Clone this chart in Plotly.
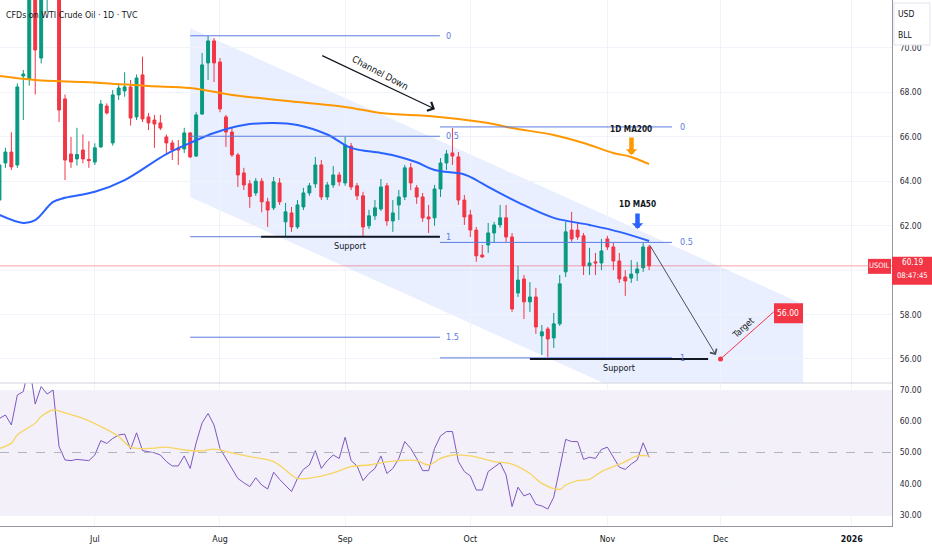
import plotly.graph_objects as go

# ---------------- data ----------------
# trading-bar index, 0 = first session of August 2025
bar_k = list(range(-37, 73))

open_p = [63.15, 64.82, 65.31, 64.73, 68.73, 68.60, 72.90, 69.54, 72.80, 74.20,
          73.60, 67.70, 65.22, 65.00, 65.40, 64.98, 64.86, 65.54, 67.38, 65.72,
          67.88, 68.06, 68.24, 66.89, 68.78, 66.89, 66.75, 66.62, 65.99, 65.72,
          65.49, 65.45, 66.17, 65.13, 67.02, 69.32, 70.31,
          69.36, 66.89, 66.21, 65.18, 64.37, 63.88, 63.47, 64.00, 63.07, 62.80,
          63.92, 62.17, 62.57, 61.94, 62.84, 63.47, 63.88, 64.73, 63.29, 63.83,
          64.28, 63.92, 65.58, 63.79, 63.34, 61.99, 62.44, 62.75, 63.79, 62.21,
          62.93, 63.29, 64.60, 63.70, 63.29, 62.39, 62.35, 63.65, 64.82, 65.27,
          65.09, 63.15, 62.48, 61.80, 60.68, 61.13, 61.67, 62.03, 62.35, 61.49,
          58.97, 59.60, 58.57, 58.79, 57.04, 57.35, 56.95, 57.58, 59.92, 61.80,
          61.80, 61.54, 60.19, 60.37, 60.32, 61.40, 61.04, 60.41, 59.69, 59.64,
          59.87, 60.10, 61.04]
high_p = [64.95, 65.50, 66.20, 68.40, 69.00, 73.60, 73.40, 73.20, 75.20, 75.50,
          74.00, 67.90, 65.99, 66.40, 66.10, 65.80, 65.70, 67.65, 67.50, 68.10,
          68.40, 68.90, 68.55, 68.80, 69.60, 67.07, 66.98, 66.98, 66.10, 65.85,
          65.85, 66.40, 66.20, 67.10, 69.77, 70.53, 70.44,
          69.54, 66.98, 66.40, 65.27, 64.60, 64.05, 64.14, 64.14, 63.25, 64.19,
          64.14, 63.02, 62.84, 63.15, 63.70, 63.92, 65.09, 64.95, 63.97, 64.68,
          64.41, 65.99, 65.72, 63.92, 63.52, 62.71, 63.15, 64.10, 63.92, 63.15,
          63.60, 64.73, 64.82, 63.83, 63.47, 62.93, 63.83, 65.04, 65.40, 66.39,
          65.31, 63.38, 62.71, 61.94, 61.13, 62.12, 62.17, 62.93, 62.93, 61.67,
          60.19, 59.78, 59.46, 59.20, 57.53, 57.44, 58.07, 59.78, 62.17, 62.62,
          62.12, 61.67, 61.00, 60.77, 61.40, 61.54, 61.22, 60.77, 60.00, 60.45,
          60.37, 61.22, 61.13]
low_p = [62.93, 64.60, 64.50, 64.60, 66.75, 68.30, 67.90, 69.30, 71.60, 72.60,
         66.66, 64.05, 64.60, 64.70, 64.80, 64.60, 64.73, 65.50, 67.00, 65.60,
         67.65, 67.80, 66.50, 66.75, 66.66, 66.30, 65.50, 66.30, 65.27, 64.95,
         64.73, 65.27, 65.04, 65.09, 66.98, 68.55, 68.46,
         67.10, 65.54, 65.09, 63.74, 63.60, 62.80, 63.34, 62.60, 61.94, 62.70,
         62.93, 61.49, 61.72, 61.85, 62.70, 63.34, 63.70, 63.15, 63.15, 63.70,
         63.79, 63.79, 63.60, 63.15, 61.54, 61.85, 62.25, 62.66, 61.99, 61.72,
         62.25, 63.15, 63.60, 62.98, 62.17, 61.67, 61.99, 63.29, 64.50, 64.73,
         62.93, 62.03, 61.49, 60.37, 60.55, 60.77, 61.22, 61.90, 61.27, 58.12,
         58.79, 57.80, 58.12, 57.13, 56.18, 56.09, 56.50, 57.49, 59.69, 61.27,
         61.36, 59.78, 59.78, 59.78, 60.00, 60.90, 60.00, 59.42, 58.84, 59.42,
         59.51, 59.92, 60.00]
close_p = [64.73, 65.31, 64.64, 68.24, 68.82, 72.90, 69.90, 72.80, 74.20, 73.60,
           67.20, 64.95, 64.86, 65.20, 65.00, 64.93, 65.50, 67.47, 67.07, 67.88,
           68.19, 68.24, 66.84, 68.64, 66.80, 66.62, 66.57, 66.39, 65.72, 65.40,
           65.40, 66.17, 65.09, 66.98, 69.23, 70.31, 69.32,
           67.25, 66.21, 65.18, 64.28, 63.83, 63.31, 64.00, 63.07, 62.70, 63.97,
           63.07, 62.62, 61.94, 62.93, 63.47, 63.79, 64.73, 63.29, 63.83, 64.28,
           63.97, 65.63, 63.74, 63.34, 61.94, 62.44, 62.80, 63.74, 62.21, 62.57,
           63.29, 64.60, 63.92, 63.29, 62.35, 62.30, 63.65, 64.82, 65.22, 65.13,
           63.15, 62.39, 61.80, 60.64, 60.59, 61.67, 62.03, 62.35, 61.49, 58.25,
           59.55, 58.57, 58.79, 57.44, 57.22, 56.90, 57.58, 59.38, 61.72, 61.40,
           61.49, 60.19, 60.32, 60.32, 60.86, 61.04, 60.41, 59.60, 59.51, 59.82,
           60.05, 61.04, 60.19]

# moving averages at sample bars
ma50_k = [-37, -33, -31, -28, -26, -21, -16, -9, -5, -1, 4, 9, 13, 18, 22, 27,
          30, 33, 36, 41, 43, 45, 50, 56, 62, 67, 72]
ma50_v = [62.48, 62.12, 62.25, 63.07, 63.25, 63.52, 64.05, 65.22, 65.72, 66.17,
          66.53, 66.62, 66.53, 66.10, 65.50, 65.27, 65.10, 64.85, 64.50, 64.30,
          64.05, 63.74, 63.05, 62.35, 62.03, 61.72, 61.31]
ma200_k = [-37, -31, -20, -12, -5, 2, 13, 21, 27, 35, 40, 45, 49, 56, 61, 66, 69, 72]
ma200_v = [68.73, 68.55, 68.42, 68.28, 68.19, 67.88, 67.56, 67.34, 67.07, 66.93,
           66.80, 66.62, 66.39, 66.08, 65.72, 65.27, 65.09, 64.77]

rsi_v = [60.9, 62.0, 58.8, 68.4, 69.5, 78.0, 65.5, 71.1, 68.7, 70.0,
         51.9, 47.6, 47.4, 47.8, 47.6, 47.4, 49.2, 53.8, 52.9, 54.5,
         55.6, 55.9, 51.1, 56.3, 50.6, 50.3, 49.9, 49.2, 47.1, 45.7,
         45.7, 48.9, 44.9, 53.1, 59.5, 62.5, 58.8,
         51.3, 48.1, 44.9, 41.7, 40.3, 39.1, 41.9, 39.6, 38.3, 43.7,
         41.4, 39.6, 37.5, 41.7, 44.6, 46.0, 50.6, 44.9, 47.4, 49.2,
         48.1, 54.9, 47.4, 45.7, 41.0, 43.3, 44.9, 48.9, 43.3, 44.9,
         48.1, 53.5, 51.3, 48.1, 44.2, 44.2, 51.3, 55.3, 56.7, 56.7,
         47.1, 43.9, 42.5, 38.0, 38.0, 43.9, 45.3, 46.7, 42.8, 32.7,
         38.9, 36.1, 36.9, 33.4, 32.9, 31.9, 35.7, 45.0, 54.2, 53.5,
         53.5, 47.8, 48.5, 48.1, 51.0, 51.7, 48.5, 45.3, 44.6, 46.3,
         47.6, 53.1, 48.5]
rsi_ma_k = [-37, -35, -34, -31, -30, -28, -26, -23, -20, -17, -15, -12, -9, -6, -3,
            -1, 2, 5, 9, 11, 13, 16, 19, 22, 25, 27, 30, 33, 35, 37, 39, 42, 43,
            46, 49, 52, 54, 57, 58, 60, 62, 64, 66, 68, 70, 72]
rsi_ma_v = [51.3, 53.0, 55.6, 59.4, 61.5, 63.6, 62.7, 60.9, 58.3, 55.1, 51.7, 51.3,
            51.7, 50.8, 50.5, 51.1, 49.9, 48.7, 47.1, 44.4, 41.7, 42.1, 43.5, 45.5,
            46.0, 46.7, 47.4, 47.4, 46.0, 48.1, 49.2, 48.9, 48.5, 47.1, 46.3, 43.3,
            40.1, 38.2, 39.6, 41.0, 41.4, 43.9, 45.5, 47.1, 48.9, 48.9]

month_tick_bar = [-21, 0, 21, 42, 65, 84, 106]
month_tick_text = ["Jul", "Aug", "Sep", "Oct", "Nov", "Dec", "<b>2026</b>"]
price_ticks = [56, 58, 62, 64, 66, 68, 70]      # 60.00 sits under the live-price label
price_hidden_grid = [60]
rsi_ticks = [30, 40, 50, 60, 70]

fib_levels = [0, 0.5, 1, 1.5]
fib_left_0, fib_left_1 = 70.54, 61.50
fib_right_levels = [0, 0.5, 1]
fib_right_0, fib_right_1 = 66.44, 56.05
support_1 = 61.50
support_2 = 56.00
target_price = 56.00
title_text = "CFDs on WTI Crude Oil · 1D · TVC"
clock_text = "08:47:45"

# ---------------- style ----------------
GREEN = "#089981"
RED = "#f23645"
BLUE = "#2962ff"
ORANGE = "#ff9800"
FIB = "#5b7be0"
GRID = "#f0f3fa"
AXIS = "#9598a1"
TXT = "#131722"
FONT = "DejaVu Sans Condensed, Liberation Sans Narrow, Liberation Sans, sans-serif"

W, H = 932, 550
PW, PH = 892, 526            # plot area in pixels
SPLIT_PX = 383               # pane separator (px from top)
split = (PH - SPLIT_PX) / PH
X0, X1 = -36.91, 112.75
Y0, Y1 = 54.92, 72.15
R0, R1 = 26.48, 72.24


def px(x):
    return x / PW


def py(y):
    return (PH - y) / PH


fig = go.Figure()

fig.add_trace(go.Candlestick(
    x=bar_k, open=open_p, high=high_p, low=low_p, close=close_p,
    increasing=dict(line=dict(color=GREEN, width=1), fillcolor=GREEN),
    decreasing=dict(line=dict(color=RED, width=1), fillcolor=RED),
    whiskerwidth=0, xaxis="x", yaxis="y", hoverinfo="skip"))

fig.add_trace(go.Scatter(x=ma200_k, y=ma200_v, mode="lines",
                         line=dict(color=ORANGE, width=2, shape="spline"),
                         xaxis="x", yaxis="y", hoverinfo="skip"))
fig.add_trace(go.Scatter(x=ma50_k, y=ma50_v, mode="lines",
                         line=dict(color=BLUE, width=2, shape="spline"),
                         xaxis="x", yaxis="y", hoverinfo="skip"))

fig.add_trace(go.Scatter(x=bar_k, y=rsi_v, mode="lines",
                         line=dict(color="#7e57c2", width=1),
                         xaxis="x", yaxis="y2", hoverinfo="skip"))
fig.add_trace(go.Scatter(x=rsi_ma_k, y=rsi_ma_v, mode="lines",
                         line=dict(color="#f7d560", width=1.3, shape="spline"),
                         xaxis="x", yaxis="y2", hoverinfo="skip"))

# target line + dot
tgt_k0, tgt_k1, tgt_end = 83.98, 92.95, 58.13
fig.add_trace(go.Scatter(x=[tgt_k0, tgt_k1], y=[target_price, tgt_end], mode="lines",
                         line=dict(color=RED, width=1), xaxis="x", yaxis="y",
                         hoverinfo="skip"))
fig.add_trace(go.Scatter(x=[tgt_k0], y=[target_price], mode="markers",
                         marker=dict(color=RED, size=5), xaxis="x", yaxis="y",
                         hoverinfo="skip"))

shapes = []
for g in price_hidden_grid:
    shapes.append(dict(type="line", xref="paper", yref="y", x0=0, x1=1, y0=g, y1=g,
                       layer="below", line=dict(color=GRID, width=1)))
# channel down
ch_k0, ch_k1 = -5.0, 97.8
ch_top0, ch_bot0, ch_slope = 70.88, 63.29, -0.1207
ch_top1 = ch_top0 + ch_slope * (ch_k1 - ch_k0)
ch_bot1 = ch_bot0 + ch_slope * (ch_k1 - ch_k0)
shapes.append(dict(type="path", xref="x", yref="y", layer="below",
                   path=f"M{ch_k0},{ch_top0} L{ch_k1},{ch_top1} L{ch_k1},{ch_bot1} L{ch_k0},{ch_bot0} Z",
                   fillcolor="rgba(41,98,255,0.10)", line=dict(width=0)))
# RSI band
shapes.append(dict(type="rect", xref="paper", yref="y2", x0=0, x1=1, y0=30, y1=70,
                   layer="below", fillcolor="rgba(126,87,194,0.09)", line=dict(width=0)))
shapes.append(dict(type="line", xref="paper", yref="y2", x0=0, x1=1, y0=50, y1=50,
                   line=dict(color="#b2b5be", width=1, dash="dash")))
# pane separator
shapes.append(dict(type="line", xref="paper", yref="paper", x0=0, x1=1, y0=split, y1=split,
                   line=dict(color="#d1d4dc", width=1)))
# fib left
fl_k0, fl_k1 = -5.0, 36.9
for lv in fib_levels:
    v = fib_left_0 - lv * (fib_left_0 - fib_left_1)
    shapes.append(dict(type="line", xref="x", yref="y", x0=fl_k0, x1=fl_k1, y0=v, y1=v,
                       line=dict(color=FIB, width=1)))
fr_k0, fr_k1 = 36.9, 75.84
for lv in fib_right_levels:
    v = fib_right_0 - lv * (fib_right_0 - fib_right_1)
    shapes.append(dict(type="line", xref="x", yref="y", x0=fr_k0, x1=fr_k1, y0=v, y1=v,
                       line=dict(color=FIB, width=1)))
# supports
shapes.append(dict(type="line", xref="x", yref="y", x0=6.9, x1=36.9, y0=support_1, y1=support_1,
                   line=dict(color=TXT, width=2)))
shapes.append(dict(type="line", xref="x", yref="y", x0=52.0, x1=81.9, y0=support_2, y1=support_2,
                   line=dict(color=TXT, width=2)))
# current price line
last_close = close_p[-1]
shapes.append(dict(type="line", xref="paper", yref="y", x0=0, x1=1, y0=last_close, y1=last_close,
                   line=dict(color="rgba(242,54,69,0.45)", width=1)))
# price label boxes
shapes.append(dict(type="rect", xref="paper", yref="y", ysizemode="pixel",
                   yanchor=last_close, x0=px(892), x1=px(932), y0=-19, y1=9,
                   fillcolor=RED, line=dict(width=0), layer="above"))
shapes.append(dict(type="rect", xref="paper", yref="y", ysizemode="pixel",
                   yanchor=last_close, x0=px(868), x1=px(891), y0=-8, y1=7,
                   fillcolor=RED, line=dict(width=0), layer="above"))
shapes.append(dict(type="rect", xref="x", yref="y", xsizemode="pixel", ysizemode="pixel",
                   xanchor=tgt_k1, yanchor=tgt_end, x0=0, x1=29, y0=-11.6, y1=8.4,
                   fillcolor=RED, line=dict(width=0), layer="above"))
# USD / BLL box
shapes.append(dict(type="rect", xref="paper", yref="paper", x0=px(894), x1=px(930),
                   y0=py(45), y1=py(3), fillcolor="white", line=dict(color="#e0e3eb", width=1),
                   layer="above"))

ann = []


def text(x, y, s, size=9, color=TXT, xref="x", yref="y", angle=0, xanchor="center", **kw):
    ann.append(dict(x=x, y=y, xref=xref, yref=yref, text=s, showarrow=False, textangle=angle,
                    xanchor=xanchor, yanchor="middle",
                    font=dict(family=FONT, size=size, color=color), **kw))


text(px(4), py(15), title_text, size=8.8, xref="paper", yref="paper", xanchor="left")
text(px(906), py(14), "USD", size=8.5, xref="paper", yref="paper")
text(px(906), py(35), "BLL", size=8.5, xref="paper", yref="paper")

for lv in fib_levels:
    v = fib_left_0 - lv * (fib_left_0 - fib_left_1)
    text(37.6, v, f"{lv:g}", size=9, color=FIB, xanchor="left")
for lv in fib_right_levels:
    v = fib_right_0 - lv * (fib_right_0 - fib_right_1)
    text(76.8, v, f"{lv:g}", size=9, color=FIB, xanchor="left")

text(21.8, 61.08, "Support", size=9)
text(66.9, 55.6, "Support", size=9)
text(26.85, 68.87, "Channel Down", size=9.5, angle=28)
text(87.75, 57.4, "Target", size=9, angle=-42)
text(68.96, 66.35, "<b>1D MA200</b>", size=8.2)
text(69.97, 62.97, "<b>1D MA50</b>", size=8.2)
text(px(912), last_close, f"{last_close:.2f}", size=8.2, color="white", xref="paper",
     yshift=4, borderpad=0)
text(px(912), last_close, clock_text, size=7.6, color="white", xref="paper",
     yshift=-10, borderpad=0)
text(px(879.5), last_close, "USOIL", size=7.5, color="white", xref="paper", yshift=0,
     borderpad=0)
text(tgt_k1, tgt_end, f"{target_price:.2f}", size=8.5, color="white", xanchor="center",
     xshift=14.5, yshift=-1.6)

# arrows
ann.append(dict(x=36.07, y=67.24, ax=16.9, ay=69.68, xref="x", yref="y", axref="x", ayref="y",
                text="", showarrow=True, arrowhead=4, arrowsize=1.6, arrowwidth=1.2,
                arrowcolor=TXT, standoff=0, startstandoff=0))
ann.append(dict(x=83.2, y=56.18, ax=71.98, ay=61.18, xref="x", yref="y", axref="x", ayref="y",
                text="", showarrow=True, arrowhead=4, arrowsize=1.5, arrowwidth=1,
                arrowcolor="#4a4e59", standoff=0, startstandoff=0))
ann.append(dict(x=69.04, y=65.18, ax=0, ay=-19, xref="x", yref="y",
                text="", showarrow=True, arrowhead=1, arrowsize=0.42, arrowwidth=4.5,
                arrowcolor=ORANGE, standoff=0))
ann.append(dict(x=70.05, y=61.85, ax=0, ay=-17, xref="x", yref="y",
                text="", showarrow=True, arrowhead=1, arrowsize=0.42, arrowwidth=4.5,
                arrowcolor=BLUE, standoff=0))

fig.update_layout(
    width=W, height=H,
    margin=dict(l=0, r=W - PW, t=0, b=H - PH),
    paper_bgcolor="white", plot_bgcolor="white",
    showlegend=False, hovermode=False,
    shapes=shapes, annotations=ann,
    font=dict(family=FONT, size=9, color=TXT),
    xaxis=dict(domain=[0, 1], range=[X0, X1], anchor="y2",
               tickvals=month_tick_bar, ticktext=month_tick_text,
               showgrid=True, gridcolor=GRID, zeroline=False,
               showline=True, linecolor=AXIS, linewidth=1, ticks="",
               ticklabelstandoff=4,
               tickfont=dict(family=FONT, size=8.8, color=TXT),
               rangeslider=dict(visible=False)),
    yaxis=dict(domain=[split, 1], range=[Y0, Y1], side="right", anchor="x",
               tickvals=price_ticks, tickformat=".2f",
               showgrid=True, gridcolor=GRID, zeroline=False,
               showline=True, linecolor=AXIS, linewidth=1, ticks="",
               ticklabelstandoff=5,
               tickfont=dict(family=FONT, size=8.5, color="#2a2e39")),
    yaxis2=dict(domain=[0, split], range=[R0, R1], side="right", anchor="x",
                tickvals=rsi_ticks, tickformat=".2f",
                showgrid=True, gridcolor=GRID, zeroline=False,
                showline=True, linecolor=AXIS, linewidth=1, ticks="",
                ticklabelstandoff=5,
                tickfont=dict(family=FONT, size=8.5, color="#2a2e39")),
)

fig.write_html("out.html", config={"displayModeBar": False, "staticPlot": True},
               post_script="document.body.style.margin='0px';document.body.style.overflow='hidden';")
